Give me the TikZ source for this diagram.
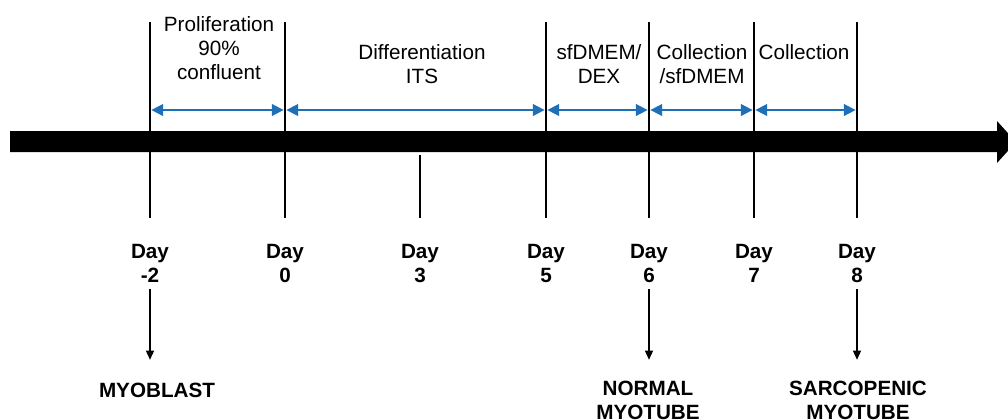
\documentclass[tikz,border=0pt]{standalone}
\usepackage{fontspec}
\setmainfont{Liberation Sans}
\usepackage{tikz}
\usetikzlibrary{arrows.meta,positioning,calc}
\definecolor{phaseblue}{HTML}{1F6FB8}
\tikzset{
    every picture/.style={line join=miter},
    daytick/.style={draw=black,line width=1.9pt},
    phasearrow/.style={{Triangle[length=9pt,width=8.5pt]}-{Triangle[length=9pt,width=8.5pt]},
      draw=phaseblue,line width=2.2pt,shorten <=0.9pt,shorten >=0.9pt},
    phaselabel/.style={font=\fontsize{15.5}{18}\selectfont,align=center,anchor=base,inner sep=0pt},
    daylabel/.style={font=\bfseries\fontsize{15.5}{18}\selectfont,align=center,anchor=base},
    stagelabel/.style={font=\bfseries\fontsize{15.5}{18}\selectfont,align=center,anchor=base},
    pointer/.style={-{Triangle[length=7pt,width=6pt]},draw=black,line width=1.2pt,
      shorten <=1.5pt}
}
\begin{document}
\begin{tikzpicture}[x=0.75pt,y=-0.75pt]
  \useasboundingbox (0,0) rectangle (1008,419);
  \clip (0,0) rectangle (1008,419);
  % main time axis
  \fill[black] (10,131) -- (997,131) -- (997,121) -- (1016,142) -- (997,163)
    -- (997,152) -- (10,152) -- cycle;
  % day ticks and labels
  \foreach \x/\n/\d/\top in {150/m2/-2/22,285/0/0/22,420/3/3/155,546/5/5/22,
      649/6/6/22,754/7/7/22,857/8/8/22}{
    \coordinate (t\n) at (\x,\top);
    \coordinate (b\n) at (\x,218);
    \coordinate (p\n) at (\x,110);
    \draw[daytick] (t\n) -- (b\n);
    \node[daylabel] (d\n) at (\x,282) {Day\\\d};}
  % phases
  \draw[phasearrow] (pm2) -- (p0);
  \draw[phasearrow] (p0) -- (p5);
  \draw[phasearrow] (p5) -- (p6);
  \draw[phasearrow] (p6) -- (p7);
  \draw[phasearrow] (p7) -- (p8);
  \node[phaselabel] (prolif) at (219,79) {Proliferation\\90\%\\confluent};
  \node[phaselabel] (diff) at (422,83) {Differentiation\\ITS};
  \node[phaselabel] (dex) at (599,83) {sfDMEM/\\DEX};
  \node[phaselabel] (coll1) at (702,83) {Collection\\/sfDMEM};
  \node[phaselabel] (coll2) at (804,59) {Collection};
  % cell stages
  \node[stagelabel] (myoblast) at (157,397) {MYOBLAST};
  \node[stagelabel] (normal) at (648,419) {NORMAL\\MYOTUBE};
  \node[stagelabel] (sarco) at (858,419) {SARCOPENIC\\MYOTUBE};
  \draw[pointer,shorten >=13.5pt] (dm2.south) -- (dm2.south |- myoblast.north);
  \draw[pointer,shorten >=12pt] (d6.south) -- (d6.south |- normal.north);
  \draw[pointer,shorten >=12pt] (d8.south) -- (d8.south |- sarco.north);
\end{tikzpicture}
\end{document}
